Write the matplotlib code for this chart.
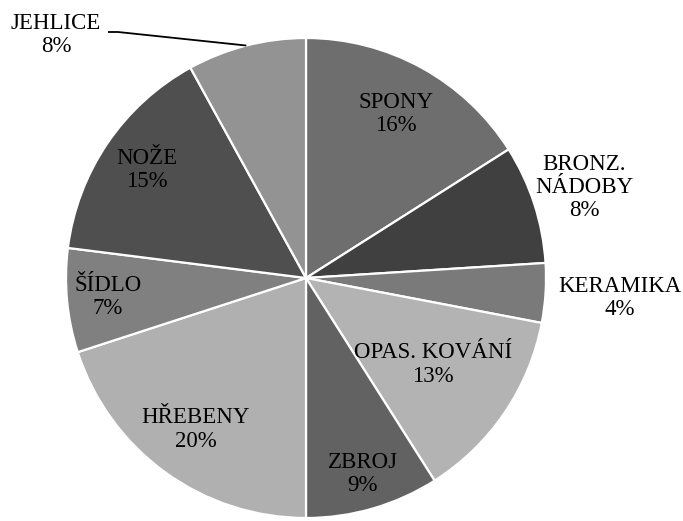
import numpy as np
import matplotlib.pyplot as plt

labels = ['SPONY', 'BRONZ.\nNÁDOBY', 'KERAMIKA', 'OPAS. KOVÁNÍ', 'ZBROJ',
          'HŘEBENY', 'ŠÍDLO', 'NOŽE', 'JEHLICE']
values = [16, 8, 4, 13, 9, 20, 7, 15, 8]
colors = ['#6e6e6e', '#404040', '#7a7a7a', '#b3b3b3', '#626262',
          '#b0b0b0', '#808080', '#4f4f4f', '#939393']
# radial position of each label, as a fraction of the radius (None = outside with leader)
label_r = [0.78, 1.22, 1.31, 0.64, 0.85, 0.78, 0.83, 0.80, None]

plt.rcParams['font.family'] = ['Liberation Serif', 'DejaVu Serif']

fig = plt.figure(figsize=(6.83, 5.21), dpi=100)
ax = fig.add_axes([0, 0, 1, 1])

cx, cy, R = 306, 243, 240
wedges, _ = ax.pie(values, colors=colors, startangle=90, counterclock=False,
                   center=(cx, cy), radius=R, frame=True,
                   wedgeprops=dict(edgecolor='white', linewidth=1.6))
ax.set_xlim(0, 683)
ax.set_ylim(0, 521)
ax.set_aspect('auto')
ax.axis('off')

fs = 16.5
total = sum(values)
cum = np.cumsum([0] + values)
for i, (lab, v) in enumerate(zip(labels, values)):
    mid = 90 - 360 * (cum[i] + v / 2) / total
    t = f"{lab}\n{v}%"
    if label_r[i] is None:
        # outside label with leader line to the wedge edge
        ex = cx + R * np.cos(np.radians(mid))
        ey = cy + R * np.sin(np.radians(mid))
        tx, ty = 56, 486
        ax.text(tx, ty, t, ha='center', va='center', fontsize=fs, linespacing=1.15)
        ax.plot([tx + 52, tx + 62, ex], [ty + 3, ty + 3, ey], color='black', lw=1.3,
                solid_capstyle='butt')
    else:
        x = cx + label_r[i] * R * np.cos(np.radians(mid))
        y = cy + label_r[i] * R * np.sin(np.radians(mid))
        ax.text(x, y, t, ha='center', va='center', fontsize=fs, linespacing=1.15)

fig.savefig('out.png', dpi=100)
